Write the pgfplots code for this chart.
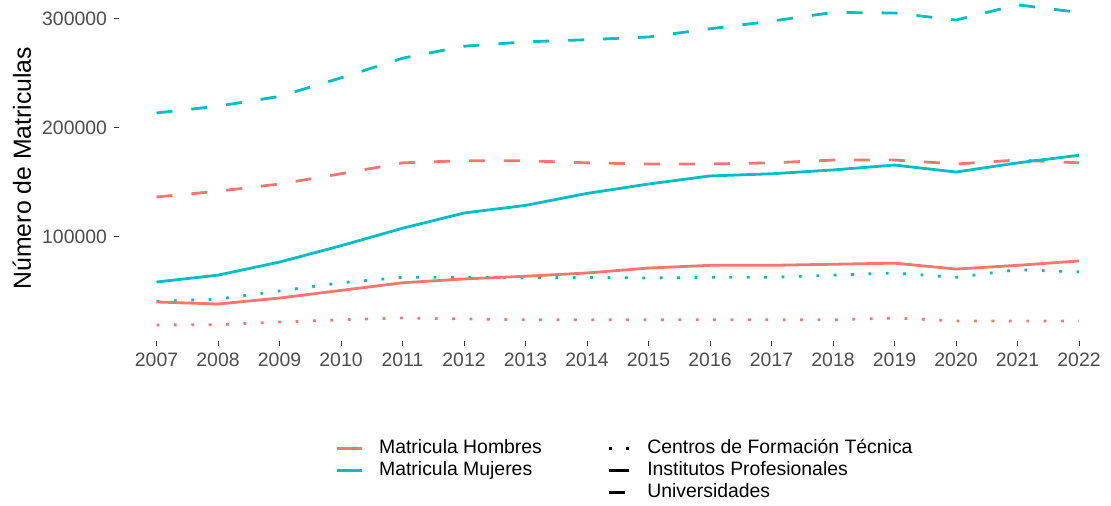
\documentclass[border=0pt]{standalone}
\usepackage{fontspec}
\setmainfont{Liberation Sans}
\usepackage{pgfplots}
\usepackage{pgfplotstable}
\pgfplotsset{compat=1.18}

\definecolor{hombres}{HTML}{F8766D}
\definecolor{mujeres}{HTML}{00BFC4}
\definecolor{grey30}{HTML}{4D4D4D}
\definecolor{grey20}{HTML}{333333}

% matriculas por año
\pgfplotstableread{
year  uh      um      iph    ipm     cfth   cftm
2007  136700  213800  40400  58700   19300  41000
2008  142000  220000  38500  65000   19500  43000
2009  148600  229000  44000  77000   22000  50500
2010  158000  246000  51000  92000   24000  58000
2011  168000  264000  58000  108000  25700  63000
2012  170000  275000  61500  122000  24800  63000
2013  170000  279000  64000  129000  24000  62400
2014  168000  281000  67000  140000  24000  63000
2015  167000  283500  71500  148600  24000  62400
2016  167000  291000  74000  156000  24000  63000
2017  168000  298000  74000  158000  24000  63000
2018  170600  306000  75000  161500  24000  65000
2019  170600  305500  76000  166000  25700  67000
2020  167000  299000  70600  159600  23000  63000
2021  170600  313000  74000  168000  23000  70000
2022  168000  306000  78000  175000  23000  68000
}\datatable

\pgfplotsset{
  common/.style={
    scale only axis,
    width=496pt, height=169.5pt,
    xmin=2006.39, xmax=2022.52,
    ymin=4590, ymax=315600,
  },
  dotted gg/.style={dash pattern=on 1.4pt off 7.3pt},
  dashed gg/.style={dash pattern=on 8pt off 9.5pt},
  leg/.style={draw=none, fill=none, anchor=north west,
      font=\fontsize{9.7}{11}\selectfont, inner sep=0pt, row sep=0.6pt, column sep=0pt,
      nodes={inner sep=0pt, text height=7.2pt, text depth=2pt}},
}

\begin{document}
\begin{tikzpicture}
\begin{axis}[
    common,
    axis line style={draw=none},
    xtick={2007,2008,...,2022},
    ytick={100000,200000,300000},
    scaled y ticks=false,
    xtick pos=bottom, ytick pos=left,
    tick align=outside,
    major tick length=2.5pt,
    tick style={grey20, line width=0.5pt},
    /pgf/number format/.cd, fixed, precision=0, 1000 sep={}, assume math mode=true,
    /pgfplots/.cd,
    ticklabel style={font=\fontsize{9.7}{11}\selectfont, text=grey30},
    ylabel={Número de Matriculas},
    ylabel style={font=\fontsize{12.4}{14}\selectfont, at={(axis description cs:-0.0978,0.51)}, anchor=center},
    legend style={leg, at={(axis description cs:0.2177,-0.285)}},
    legend cell align=left,
    legend image code/.code={
      \draw[#1] (0pt,0pt) -- (12.5pt,0pt);
      \path (0pt,-4.5pt) (20.5pt,4.5pt);},
  ]
  \addplot[mujeres, line width=1.4pt, dotted gg, forget plot] table[x=year, y=cftm] {\datatable};
  \addplot[hombres, line width=1.4pt, dotted gg, forget plot] table[x=year, y=cfth] {\datatable};
  \addplot[mujeres, line width=1.4pt, dashed gg, forget plot] table[x=year, y=um] {\datatable};
  \addplot[hombres, line width=1.4pt, dashed gg, forget plot] table[x=year, y=uh] {\datatable};
  \addplot[mujeres, line width=1.4pt, forget plot] table[x=year, y=ipm] {\datatable};
  \addplot[hombres, line width=1.4pt, forget plot] table[x=year, y=iph] {\datatable};

  \addlegendimage{hombres, line width=1.4pt}
  \addlegendentry{Matricula Hombres}
  \addlegendimage{mujeres, line width=1.4pt}
  \addlegendentry{Matricula Mujeres}
\end{axis}

\begin{axis}[
    common,
    hide axis,
    legend style={leg, at={(axis description cs:0.492,-0.285)}},
    legend cell align=left,
    legend image code/.code={
      \draw[#1] (0pt,0pt) -- (10pt,0pt);
      \path (0pt,-4.5pt) (18.5pt,4.5pt);},
  ]
  \addlegendimage{black, line width=1.4pt, dotted gg}
  \addlegendentry{Centros de Formación Técnica}
  \addlegendimage{black, line width=1.4pt}
  \addlegendentry{Institutos Profesionales}
  \addlegendimage{black, line width=1.4pt, dashed gg}
  \addlegendentry{Universidades}
\end{axis}
\pgfresetboundingbox
\path[use as bounding box] (-59.5pt,-82.5pt) rectangle (496pt,170.5pt);
\end{tikzpicture}
\end{document}
